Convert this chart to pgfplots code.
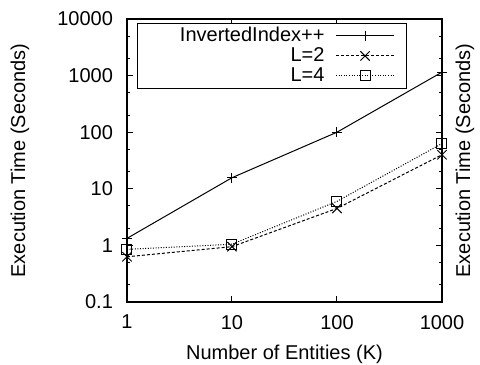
\documentclass[border=0pt]{standalone}
\usepackage{fontspec}
\setmainfont{Liberation Sans}
\usepackage{pgfplots}
\pgfplotsset{compat=1.18}
\begin{document}
\begin{tikzpicture}
\begin{loglogaxis}[
  scale only axis,
  width=157.5pt, height=141.5pt,
  xmin=1, xmax=1000, ymin=0.1, ymax=10000,
  xtick={1,10,100,1000}, xticklabels={1,10,100,1000},
  ytick={0.1,1,10,100,1000,10000}, yticklabels={0.1,1,10,100,1000,10000},
  minor ytick={0.2,0.5,2,5,20,50,200,500,2000,5000},
  xminorticks=false,
  major tick length=3pt, minor tick length=1.7pt,
  tick align=inside, tick pos=both,
  tick style={black, line width=0.5pt},
  axis line style={line width=0.6pt},
  /pgf/number format/assume math mode=true,
  xticklabel style={yshift=-3pt},
  yticklabel style={xshift=-3.5pt},
  xlabel={Number of Entities (K)},
  ylabel={Execution Time (Seconds)},
  xlabel style={at={(axis description cs:0.5,-0.1837)}, anchor=center},
  ylabel style={at={(axis description cs:-0.3397,0.5)}, anchor=center, rotate=0},
  clip=false,
  legend plot pos=right,
  legend cell align=right,
  legend style={at={(axis description cs:0.889,0.985)}, anchor=north east,
    draw=black, line width=0.5pt, inner xsep=6pt, inner ysep=1.5pt,
    column sep=5.5pt, row sep=0.8pt,
    nodes={inner sep=0pt, text height=7.2pt, text depth=2pt}},
  legend image code/.code={\draw[mark repeat=2,mark phase=2] plot coordinates {(0pt,0pt) (14.5pt,0pt) (29pt,0pt)};},
]
\addplot[black, line width=0.5pt, solid, mark=+, mark size=2.6pt, mark options={solid, black}] coordinates {(1,1.33) (10,15.7) (100,100) (1000,1150)};
\addlegendentry{\hspace*{15pt}InvertedIndex++}
\addplot[black, line width=0.5pt, dash pattern=on 1.5pt off 1pt, mark=x, mark size=3.3pt, mark options={solid, black}] coordinates {(1,0.63) (10,0.95) (100,4.5) (1000,40)};
\addlegendentry{L=2}
\addplot[black, line width=0.5pt, dash pattern=on 0.5pt off 0.8pt, mark=square, mark size=2.5pt, mark options={solid, black}] coordinates {(1,0.85) (10,1.05) (100,6.0) (1000,63)};
\addlegendentry{L=4}
\node[rotate=90, anchor=center] at (axis description cs:1.073,0.5) {Execution Time (Seconds)};
\coordinate (bbsw) at (axis description cs:-0.40317,-0.21908);
\coordinate (bbne) at (axis description cs:1.12063,1.06714);
\end{loglogaxis}
\pgfresetboundingbox
\path[use as bounding box] (bbsw) rectangle (bbne);
\end{tikzpicture}
\end{document}
